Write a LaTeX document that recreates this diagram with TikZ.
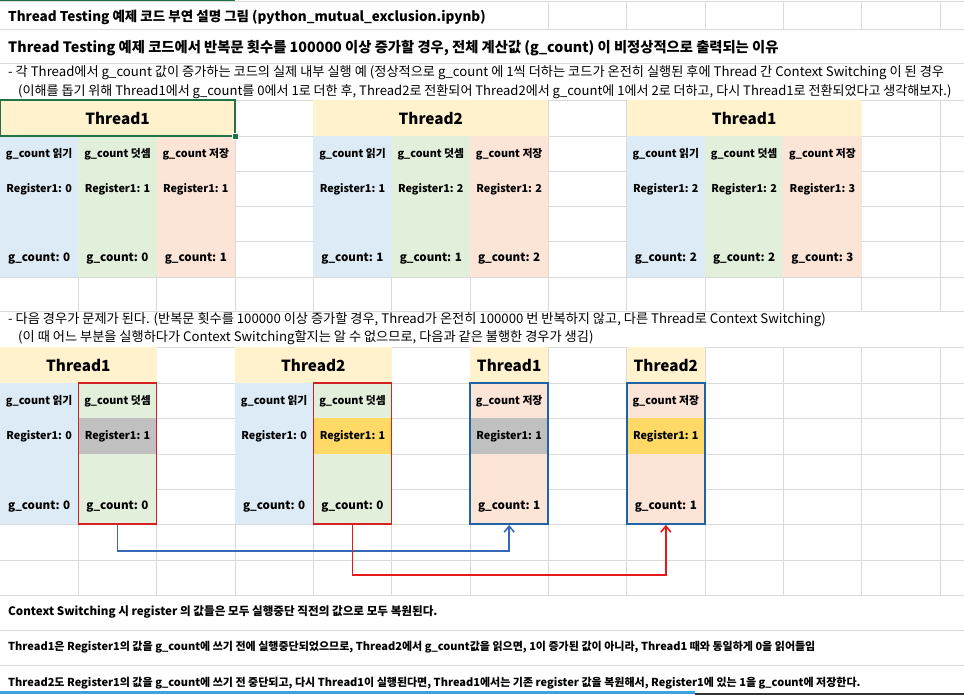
\documentclass[tikz,border=0pt]{standalone}
\usepackage{fontspec}
\setmainfont{Noto Sans CJK KR}
\usetikzlibrary{arrows.meta}
\definecolor{hdryellow}{HTML}{FFF2CC}
\definecolor{readblue}{HTML}{DDEBF7}
\definecolor{addgreen}{HTML}{E2EFDA}
\definecolor{saveorange}{HTML}{FCE4D6}
\definecolor{gridgray}{HTML}{DADADA}
\definecolor{reggray}{HTML}{C0C0C0}
\definecolor{regyellow}{HTML}{FFD966}
\definecolor{boxred}{HTML}{D42222}
\definecolor{boxblue}{HTML}{1F62A6}
\definecolor{arrblue}{HTML}{3568B8}
\definecolor{arrred}{HTML}{E61919}
\definecolor{selgreen}{HTML}{217346}
\definecolor{barblue}{HTML}{3BA3DE}
\tikzset{
  gridline/.style={gridgray,line width=0.8pt},
  celltxt/.style={inner sep=0pt,font=\bfseries\fontsize{10.8}{12}\selectfont},
  valtxt/.style={inner sep=0pt,font=\bfseries\fontsize{11.6}{14}\selectfont},
  hdtxt/.style={inner sep=0pt,font=\bfseries\fontsize{15.3}{18}\selectfont},
  notetxt/.style={anchor=west,inner sep=0pt,font=\fontsize{13.2}{15}\selectfont},
  titletxt/.style={anchor=west,inner sep=0pt,font=\bfseries\fontsize{13.5}{16}\selectfont},
  remtxt/.style={anchor=west,inner sep=0pt,font=\bfseries\fontsize{11}{13}\selectfont},
  stopbox/.style={draw=boxred,line width=1.6pt,minimum width=78.33pt,minimum height=141pt,inner sep=0pt},
  resumebox/.style={draw=boxblue,line width=1.8pt,minimum width=78.33pt,minimum height=141pt,inner sep=0pt},
  restore/.style={line width=1.8pt,-{Straight Barb[length=6pt,width=10pt,line width=1.6pt]}}
}
\begin{document}
\begin{tikzpicture}[x=1pt,y=-1pt]
  \fill[white] (0,0) rectangle (964,695);
  \useasboundingbox (0,0) rectangle (964,695);
  % grid of the sheet
  \foreach \y in {1,29,63,100,136,171,206,241,277,311,347,383,418,454,489,524,560,595,630,665}
    \draw[gridline] (0,\y) -- (964,\y);
  \foreach \i in {1,...,12} {
    \draw[gridline] (\i*78.33,100) -- (\i*78.33,311);
    \draw[gridline] (\i*78.33,347) -- (\i*78.33,595);
  }
  \foreach \i in {7,...,12} \draw[gridline] (\i*78.33,1) -- (\i*78.33,29);
  \draw[selgreen,line width=1pt] (0,0.5) -- (235,0.5);

  % heading lines
  \node[titletxt] (title) at (8,17) {Thread Testing 예제 코드 부연 설명 그림 (python\_mutual\_exclusion.ipynb)};
  \node[titletxt,font=\bfseries\fontsize{14.3}{16}\selectfont] (reason) at (8,48) {Thread Testing 예제 코드에서 반복문 횟수를 100000 이상 증가할 경우, 전체 계산값 (g\_count) 이 비정상적으로 출력되는 이유};
  \node[notetxt] (okcase) at (8,73) {- 각 Thread에서 g\_count 값이 증가하는 코드의 실제 내부 실행 예 (정상적으로 g\_count 에 1씩 더하는 코드가 온전히 실행된 후에 Thread 간 Context Switching 이 된 경우};
  \node[notetxt,font=\fontsize{13.05}{15}\selectfont] (okhint) at (18,92) {(이해를 돕기 위해 Thread1에서 g\_count를 0에서 1로 더한 후, Thread2로 전환되어 Thread2에서 g\_count에 1에서 2로 더하고, 다시 Thread1로 전환되었다고 생각해보자.)};

  % normal case: read / add / save per thread
  \foreach \k/\name/\ra/\rb/\rc/\ga/\gb/\gc in {0/Thread1/0/1/1/0/0/1, 4/Thread2/1/2/2/1/1/2, 8/Thread1/2/2/3/2/2/3} {
    \fill[hdryellow] (\k*78.33,100) rectangle ++(235,36);
    \node[hdtxt] (hd\k) at ({(\k+1.5)*78.33},118) {\name};
    \fill[readblue] (\k*78.33,136) rectangle ++(78.33,141);
    \fill[addgreen] ({(\k+1)*78.33},136) rectangle ++(78.33,141);
    \fill[saveorange] ({(\k+2)*78.33},136) rectangle ++(78.33,141);
    \node[celltxt] (rd\k) at ({(\k+0.5)*78.33},154) {g\_count 읽기};
    \node[celltxt] (ad\k) at ({(\k+1.5)*78.33},154) {g\_count 덧셈};
    \node[celltxt] (sv\k) at ({(\k+2.5)*78.33},154) {g\_count 저장};
    \node[celltxt] (rra\k) at ({(\k+0.5)*78.33},189) {Register1: \ra};
    \node[celltxt] (rrb\k) at ({(\k+1.5)*78.33},189) {Register1: \rb};
    \node[celltxt] (rrc\k) at ({(\k+2.5)*78.33},189) {Register1: \rc};
    \node[valtxt] (gca\k) at ({(\k+0.5)*78.33},259) {g\_count: \ga};
    \node[valtxt] (gcb\k) at ({(\k+1.5)*78.33},259) {g\_count: \gb};
    \node[valtxt] (gcc\k) at ({(\k+2.5)*78.33},259) {g\_count: \gc};
  }
  \draw[selgreen,line width=1.3pt] (0,100) rectangle (235,136);
  \draw[selgreen,fill=selgreen,draw=white,line width=0.6pt] (232,133) rectangle ++(6,6);

  \node[notetxt] (badcase) at (8,320) {- 다음 경우가 문제가 된다. (반복문 횟수를 100000 이상 증가할 경우, Thread가 온전히 100000 번 반복하지 않고, 다른 Thread로 Context Switching)};
  \node[notetxt] (badhint) at (18,338) {(이 때 어느 부분을 실행하다가 Context Switching할지는 알 수 없으므로, 다음과 같은 불행한 경우가 생김)};

  % unlucky case
  \fill[hdryellow] (0,347) rectangle ++(156.67,36);
  \fill[hdryellow] (235,347) rectangle ++(156.67,36);
  \fill[hdryellow] (470,347) rectangle ++(78.33,36);
  \fill[hdryellow] (626.67,347) rectangle ++(78.33,36);
  \node[hdtxt] (ha) at (78.33,365) {Thread1};
  \node[hdtxt] (hb) at (313.33,365) {Thread2};
  \node[hdtxt] (hc) at (509.17,365) {Thread1};
  \node[hdtxt] (hd) at (665.83,365) {Thread2};
  \foreach \c/\col/\mid/\op/\r/\g in {0/readblue/readblue/읽기/0/0, 1/addgreen/reggray/덧셈/1/0, 3/readblue/readblue/읽기/0/0, 4/addgreen/regyellow/덧셈/1/0, 6/saveorange/reggray/저장/1/1, 8/saveorange/regyellow/저장/1/1} {
    \fill[\col] (\c*78.33,383) rectangle ++(78.33,141);
    \fill[\mid] (\c*78.33,418) rectangle ++(78.33,36);
    \node[celltxt] (op\c) at ({(\c+0.5)*78.33},401) {g\_count \op};
    \node[celltxt] (reg\c) at ({(\c+0.5)*78.33},436) {Register1: \r};
    \node[valtxt] (gc\c) at ({(\c+0.5)*78.33},507) {g\_count: \g};
  }
  \node[stopbox] (t1add) at (117.5,453.5) {};
  \node[stopbox] (t2add) at (352.5,453.5) {};
  \node[resumebox] (t1save) at (509.17,453.5) {};
  \node[resumebox] (t2save) at (665.83,453.5) {};
  \draw[restore,arrblue] (t1add.south) -- ++(0,26) -| (t1save.south);
  \draw[restore,arrred] (t2add.south) -- ++(0,50) -| (t2save.south);

  % remarks
  \node[remtxt,font=\bfseries\fontsize{11.6}{13}\selectfont] (rem1) at (8,612) {Context Switching 시 register 의 값들은 모두 실행중단 직전의 값으로 모두 복원된다.};
  \node[remtxt] (rem2) at (8,647) {Thread1은 Register1의 값을 g\_count에 쓰기 전에 실행중단되었으므로, Thread2에서 g\_count값을 읽으면, 1이 증가된 값이 아니라, Thread1 때와 동일하게 0을 읽어들임};
  \node[remtxt] (rem3) at (8,683) {Thread2도 Register1의 값을 g\_count에 쓰기 전 중단되고, 다시 Thread1이 실행된다면, Thread1에서는 기존 register 값을 복원해서, Register1에 있는 1을 g\_count에 저장한다.};
  \draw[barblue,line width=3pt] (0,692.5) -- (695,692.5);
  \draw[black!80,line width=1.5pt] (695,694) -- (964,694);
\end{tikzpicture}
\end{document}
